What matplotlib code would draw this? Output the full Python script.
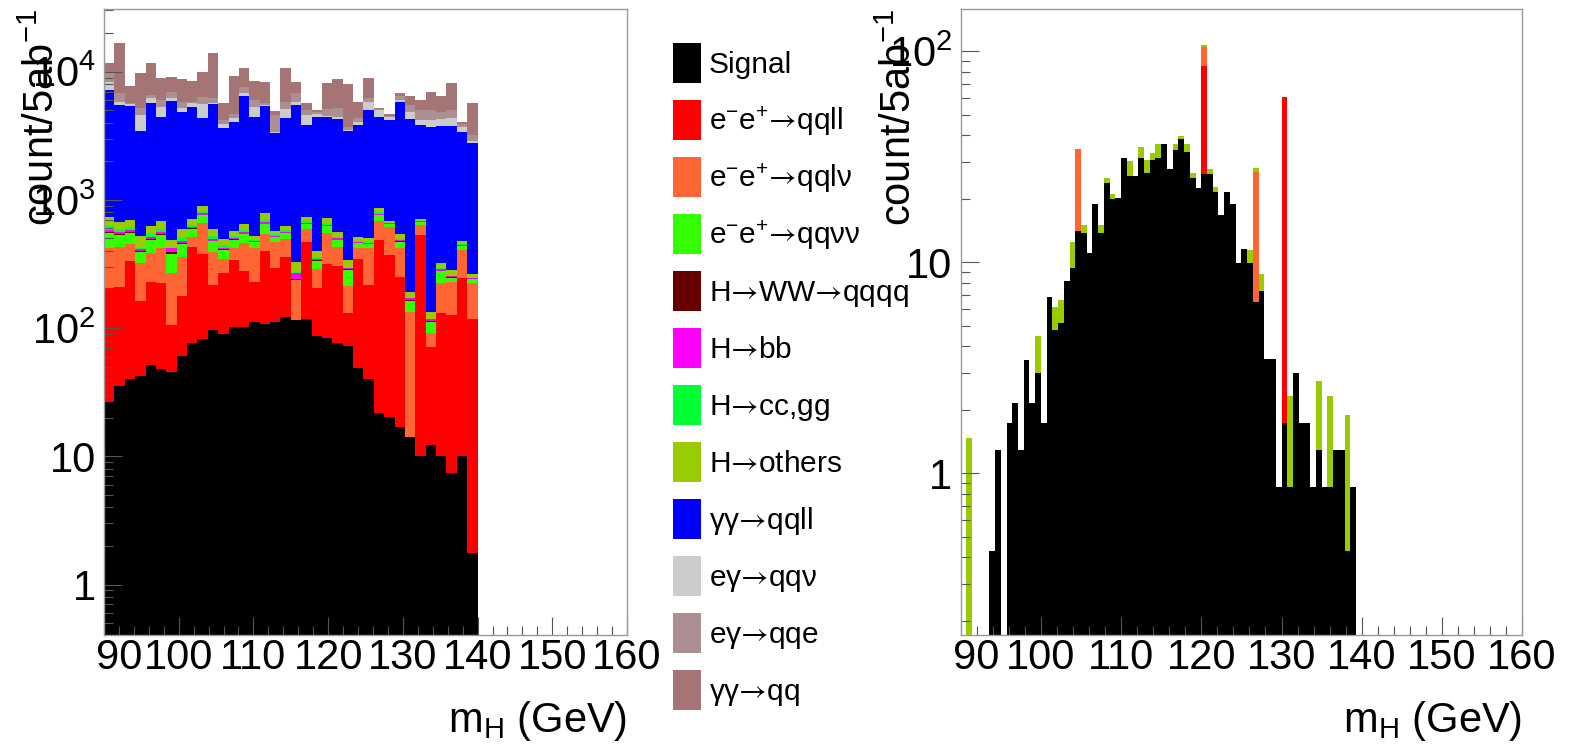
import numpy as np
import matplotlib.pyplot as plt
from matplotlib.patches import Patch
from matplotlib.ticker import FixedLocator, FuncFormatter, NullFormatter, LogLocator, MultipleLocator
from matplotlib.transforms import ScaledTranslation

plt.rcParams['font.family'] = ['Liberation Sans', 'DejaVu Sans']
plt.rcParams['mathtext.fontset'] = 'custom'
plt.rcParams['mathtext.rm'] = 'Liberation Sans'
plt.rcParams['mathtext.it'] = 'Liberation Sans:italic'
plt.rcParams['mathtext.bf'] = 'Liberation Sans:bold'
plt.rcParams['mathtext.sf'] = 'STIXGeneral'   # only used for the arrows

# ---- left panel: 36 bins from 90 to 140 GeV, counts per process ----
signal = [26.7, 35.3, 39.9, 42.3, 51.3, 47.7, 45.7, 60.6, 76.1, 81.8, 96.6, 89.9,
          102.6, 102.6, 112.2, 107.7, 112.2, 122.7, 115.6, 117.8, 86.7, 83.2, 76.1, 72.9,
          49.1, 39.9, 21.6, 20.4, 17.0, 14.2, 10.1, 12.2, 10.1, 7.4, 10.1, 1.75]
ee_qqll = [177, 175, 296, 119, 177, 176, 60, 117, 351, 295, 120, 178,
           237, 177, 118, 291, 181, 238, 0, 354, 117, 232, 231, 58,
           295, 177, 465, 352, 235, 0, 522, 59, 120, 120, 235, 117]
ee_qqlv = [220, 221, 117, 159, 159, 200, 162, 183, 84, 280, 177, 76,
           84, 179, 194, 140, 179, 132, 121, 118, 84, 240, 120, 83,
           75, 202, 197, 246, 172, 120, 105, 20, 96, 103, 161, 105]
ee_qqvv = [129, 103, 102, 71, 100, 109, 110, 96, 84, 102, 82, 63,
           63, 80, 42, 107, 42, 57, 0, 59, 47, 68, 58, 69,
           39, 34, 74, 30, 48, 29, 37, 21, 52, 16, 30, 16]
h_ww = [9, 7, 7, 6, 7, 8, 11, 7, 6, 7, 6, 4,
        5, 6, 3, 8, 3, 4, 4, 4, 3, 5, 4, 4,
        3, 2, 5, 2, 3, 2, 2, 1, 2, 2, 2, 1]
h_bb = [25, 20, 20, 16, 19, 21, 33, 18, 16, 20, 16, 12,
        12, 15, 8, 20, 8, 11, 27, 11, 9, 13, 11, 6,
        7, 7, 14, 6, 9, 6, 3, 4, 7, 5, 6, 3]
h_ccgg = [37, 29, 29, 8, 29, 31, 0, 28, 24, 29, 24, 18,
          18, 23, 12, 31, 12, 16, 4, 17, 13, 20, 17, 3,
          11, 10, 21, 8, 14, 0, 0, 0, 5, 0, 9, 5]
h_others = [107, 86, 86, 102, 84, 91, 65, 80, 69, 86, 68, 52,
            53, 66, 34, 89, 35, 48, 54, 50, 39, 57, 48, 44,
            32, 29, 62, 25, 41, 21, 31, 17, 28, 31, 25, 14]
aa_qqll = [6460, 4820, 4700, 2950, 5100, 3730, 5420, 4290, 4620, 3430, 5010, 3130,
           3500, 5810, 3890, 4610, 2740, 3700, 5170, 3110, 4060, 3690, 3690, 3110,
           3330, 4530, 3550, 3510, 5300, 4090, 3130, 3550, 3450, 3490, 2920, 2530]
ea_qqv = [1170, 340, 200, 1120, 480, 870, 300, 310, 340, 1270, 130, 270,
          260, 330, 870, 100, 90, 760, 340, 750, 220, 130, 210, 60,
          230, 810, 620, 210, 170, 600, 360, 520, 510, 560, 320, 90]
ea_qqe = [1360, 950, 100, 600, 370, 730, 770, 650, 170, 710, 480, 310,
          350, 850, 730, 170, 1190, 750, 950, 440, 170, 550, 730, 210,
          280, 410, 90, 100, 450, 620, 830, 830, 570, 700, 190, 330]
aa_qq = [2030, 10040, 2080, 4530, 5170, 2880, 2160, 2890, 2620, 3690, 7720, 1530,
         4630, 3000, 2500, 2690, 370, 4900, 1570, 640, 180, 3110, 3540, 4260,
         1490, 2640, 70, 140, 400, 960, 980, 1950, 1610, 3170, 120, 2520]

# ---- right panel: 70 bins from 90 to 140 GeV ----
signal_r = [0, 0, 0, 0, 0, 0.43, 1.29, 0, 1.73, 2.16, 1.29, 3.44, 2.16, 3.0,
            1.73, 6.87, 4.78, 5.17, 8.15, 9.43, 14.1, 13.8, 11.1, 18.9, 13.8, 23.7,
            19.9, 20.2, 31.3, 25.7, 25.7, 31.1, 26.4, 30.5, 31.1, 36.6, 27.6, 34.0,
            38.3, 33.4, 25.0, 22.4, 26.2, 26.2, 21.6, 16.8, 21.5, 18.9, 9.9, 11.6,
            9.9, 6.5, 7.3, 3.47, 3.47, 0.86, 1.73, 0.86, 3.0, 1.73, 1.73, 0.86,
            1.29, 0.86, 0.86, 1.29, 1.29, 0.43, 0.86, 0]
ee_qqll_r = [0] * 42 + [59] + [0] * 13 + [59] + [0] * 13
ee_qqlv_r = [0] * 20 + [20.2] + [0] * 21 + [19.9] + [0] * 8 + [20.4] + [0] * 18
h_others_r = [0, 1.47, 0, 0, 0, 0, 0, 0, 0, 0, 0, 0, 0, 1.47,
              0, 0, 1.38, 1.46, 0, 3.0, 0, 1.3, 0, 0, 1.3, 1.5,
              1.3, 0, 0, 4.5, 0, 4.0, 4.1, 2.4, 5.5, 0, 0, 2.6,
              1.4, 3.0, 1.4, 0, 1.9, 1.4, 1.2, 0, 0, 0, 0, 0,
              1.5, 1.2, 1.5, 0, 0, 0, 0, 1.46, 0, 0, 0, 0,
              1.46, 0, 1.46, 0, 0, 1.46, 0, 0]

ARROW = "$\\mathsf{→}$"   # unicode char: no extra relation spacing
labels = ["Signal",
          "e$^{-}$e$^{+}$" + ARROW + "qqll",
          "e$^{-}$e$^{+}$" + ARROW + "qqlν",
          "e$^{-}$e$^{+}$" + ARROW + "qqνν",
          "H" + ARROW + "WW" + ARROW + "qqqq",
          "H" + ARROW + "bb",
          "H" + ARROW + "cc,gg",
          "H" + ARROW + "others",
          "γγ" + ARROW + "qqll",
          "eγ" + ARROW + "qqν",
          "eγ" + ARROW + "qqe",
          "γγ" + ARROW + "qq"]
colors = ["#000000", "#ff0000", "#ff6633", "#33ff00", "#660000", "#ff00ff",
          "#00ff33", "#99cc00", "#0000ff", "#cccccc", "#ab8f93", "#a57575"]

edges_left = np.linspace(90, 140, 37)
edges_right = np.linspace(90, 140, 71)

left_layers = [signal, ee_qqll, ee_qqlv, ee_qqvv, h_ww, h_bb, h_ccgg, h_others,
               aa_qqll, ea_qqv, ea_qqe, aa_qq]
right_layers = [(signal_r, colors[0]), (ee_qqll_r, colors[1]),
                (ee_qqlv_r, colors[2]), (h_others_r, colors[7])]


def draw_stack(ax, edges, layers):
    base = np.zeros(len(edges) - 1)
    for values, color in layers:
        top = base + np.asarray(values, dtype=float)
        ax.stairs(top, edges, baseline=base, fill=True, color=color, linewidth=0)
        base = top


def log_label(v, pos):
    if v < 5:
        return "1"
    if v < 50:
        return "10"
    return "$10^{%d}$" % int(round(np.log10(v)))


def style_axis(ax, ylim, majors):
    ax.set_yscale("log")
    ax.set_xlim(90, 160)
    ax.set_ylim(*ylim)
    ax.xaxis.set_major_locator(FixedLocator(range(90, 161, 10)))
    ax.xaxis.set_minor_locator(MultipleLocator(2))
    ax.yaxis.set_major_locator(FixedLocator(majors))
    ax.yaxis.set_minor_locator(LogLocator(base=10, subs=range(2, 10), numticks=50))
    ax.yaxis.set_major_formatter(FuncFormatter(log_label))
    ax.yaxis.set_minor_formatter(NullFormatter())
    ax.tick_params(which="both", direction="in", top=False, right=False,
                   color="#555555", labelsize=30)
    ax.tick_params(which="major", length=13, width=0.8)
    ax.tick_params(which="minor", length=6.5, width=0.8)
    ax.tick_params(axis="y", pad=6)
    ax.tick_params(axis="x", pad=2)
    for s in ax.spines.values():
        s.set_color("#999999")
        s.set_linewidth(1)
    ax.set_xlabel("m$_{\\mathrm{H}}$ (GeV)", fontsize=30, loc="right")
    ax.xaxis.set_label_coords(1.0, -0.102)
    ax.set_ylabel("count/5ab$^{-1}$", fontsize=30, loc="top")
    # the first x label sits a little right of its tick in the original
    ticks = ax.xaxis.get_major_ticks()
    lab = ticks[0].label1
    lab.set_transform(lab.get_transform() + ScaledTranslation(0.15, 0, ax.figure.dpi_scale_trans))


fig = plt.figure(figsize=(15.77, 7.46), dpi=100)
ax1 = fig.add_axes([104 / 1577, 111 / 746, 523 / 1577, 626 / 746])
ax2 = fig.add_axes([960.7 / 1577, 111 / 746, 561.4 / 1577, 626 / 746])

draw_stack(ax1, edges_left, list(zip(left_layers, colors)))
draw_stack(ax2, edges_right, right_layers)

style_axis(ax1, (0.404, 30800), [1, 10, 100, 1000, 10000])
style_axis(ax2, (0.171, 159), [1, 10, 100])
ax1.yaxis.set_label_coords(-0.078, 1.0)
ax2.yaxis.set_label_coords(-0.073, 1.0)

handles = [Patch(facecolor=c, edgecolor="none") for c in colors]
fig.legend(handles, labels, loc="upper left", bbox_to_anchor=(673 / 1577, 1 - 43 / 746),
           frameon=False, fontsize=21.5, handlelength=0.94, handleheight=1.684,
           labelspacing=0.57, handletextpad=0.25, borderpad=0, borderaxespad=0)

fig.savefig("out.png", dpi=100)
